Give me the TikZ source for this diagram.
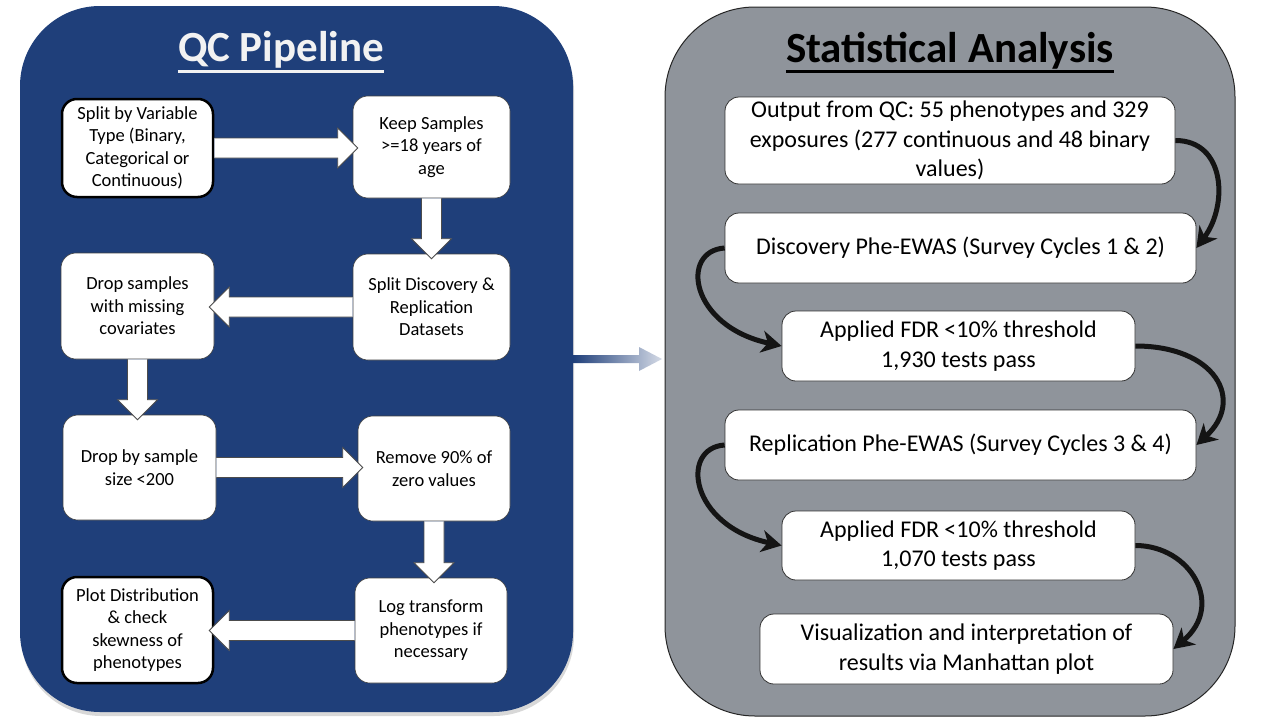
\documentclass[tikz,border=0pt]{standalone}
\usepackage{fontspec}
\setmainfont{Carlito}
\usetikzlibrary{calc,arrows.meta,shadows}

\definecolor{qcblue}{RGB}{31,63,122}
\definecolor{statgray}{RGB}{143,148,155}
\definecolor{titlewhite}{RGB}{242,242,242}
\definecolor{fadeend}{RGB}{212,218,230}

\tikzset{
  panel/.style={rounded corners=#1, inner sep=0pt, outer sep=0pt},
  qcbox/.style={fill=white, draw=black!75, line width=0.6pt, rounded corners=15pt,
    align=center, inner sep=2pt, text=black, font=\fontsize{18.5}{22.5}\selectfont},
  qcedge/.style={qcbox, draw=black, line width=2.5pt},
  stbox/.style={fill=white, draw=black!80, line width=0.8pt, rounded corners=14pt,
    align=center, inner sep=2pt, text=black, font=\fontsize{24}{29.5}\selectfont},
  blockarrow/.style={fill=white, draw=black!70, line width=0.8pt, line join=miter},
  curvearrow/.style={line width=5pt, draw=black!92,
    -{Stealth[length=20pt,width=22pt,inset=6pt]}},
  paneltitle/.style={font=\fontsize{43}{50}\selectfont\bfseries, inner sep=0pt},
}

% hollow block arrows between boxes (open stroke at the source end)
\newcommand\blockright[2]{%
  \draw[blockarrow] let \p1=(#1.east), \p2=(#2.west) in
    (\x1,\y1+10pt) -- (\x2-15pt,\y1+10pt) -- (\x2-15pt,\y1+20pt) -- (\x2+5pt,\y1)
    -- (\x2-15pt,\y1-20pt) -- (\x2-15pt,\y1-10pt) -- (\x1,\y1-10pt);}
\newcommand\blockleft[2]{%
  \draw[blockarrow] let \p1=(#1.west), \p2=(#2.east) in
    (\x1,\y1+10pt) -- (\x2+15pt,\y1+10pt) -- (\x2+15pt,\y1+20pt) -- (\x2-5pt,\y1)
    -- (\x2+15pt,\y1-20pt) -- (\x2+15pt,\y1-10pt) -- (\x1,\y1-10pt);}
\newcommand\blockdown[2]{%
  \draw[blockarrow] let \p1=(#1.south), \p2=(#2.north) in
    (\x1-10pt,\y1) -- (\x1-10pt,\y2+15pt) -- (\x1-20pt,\y2+15pt) -- (\x1,\y2-5pt)
    -- (\x1+20pt,\y2+15pt) -- (\x1+10pt,\y2+15pt) -- (\x1+10pt,\y1);}

\begin{document}
\begin{tikzpicture}[x=1pt, y=-1pt]
  \useasboundingbox (0,0) rectangle (1280,720);
  \fill[white] (0,0) rectangle (1280,720);

  % panels
  \node[panel=80pt, fill=qcblue, minimum width=553, minimum height=706,
        drop shadow={shadow xshift=1pt, shadow yshift=-4pt, opacity=0.3}]
        (lp) at (296.5,359) {};
  \node[panel=90pt, fill=statgray, draw=black!85, line width=1pt,
        minimum width=570, minimum height=709] (rp) at (950,361.5) {};

  % panel titles
  \node[paneltitle, text=titlewhite, anchor=base] (tl) at (281,61) {QC Pipeline};
  \draw[titlewhite, line width=3pt] ([yshift=-10pt]tl.base west) -- ([yshift=-10pt]tl.base east);
  \node[paneltitle, text=black, anchor=base] (tr) at (950,62) {Statistical Analysis};
  \draw[black, line width=3pt] ([yshift=-9pt]tr.base west) -- ([yshift=-9pt]tr.base east);

  % link between the panels
  \shade[left color=qcblue, right color=fadeend] let \p1=(lp.east), \p2=(rp.west) in
    (\x1,\y1+4pt) -- (\x2-26pt,\y1+4pt) -- (\x2-26pt,\y1+12pt) -- (\x2-3pt,\y1)
    -- (\x2-26pt,\y1-12pt) -- (\x2-26pt,\y1-4pt) -- (\x1,\y1-4pt) -- cycle;

  % QC pipeline steps
  \node[qcedge, minimum width=151, minimum height=98] (b1) at (137.5,148)
    {Split by Variable\\Type (Binary,\\Categorical or\\Continuous)};
  \node[qcbox, minimum width=157, minimum height=102] (b2) at (431.5,147)
    {Keep Samples\\>=18 years of\\age};
  \node[qcbox, minimum width=157, minimum height=106] (b3) at (431.5,307)
    {Split Discovery \&\\Replication\\Datasets};
  \node[qcbox, minimum width=153, minimum height=106] (b4) at (137.5,306)
    {Drop samples\\with missing\\covariates};
  \node[qcbox, minimum width=153, minimum height=105] (b5) at (139.5,467.5)
    {Drop by sample\\size <200};
  \node[qcbox, minimum width=152, minimum height=105] (b6) at (434,468.5)
    {Remove 90\% of\\zero values};
  \node[qcbox, minimum width=152, minimum height=105] (b7) at (431,630.5)
    {Log transform\\phenotypes if\\necessary};
  \node[qcedge, minimum width=151, minimum height=106] (b8) at (137.5,630)
    {Plot Distribution\\\& check\\skewness of\\phenotypes};

  \blockright{b1}{b2}
  \blockdown{b2}{b3}
  \blockleft{b3}{b4}
  \blockdown{b4}{b5}
  \blockright{b5}{b6}
  \blockdown{b6}{b7}
  \blockleft{b7}{b8}

  % statistical analysis steps
  \node[stbox, minimum width=450, minimum height=87] (r1) at (950,140.5)
    {Output from QC: 55 phenotypes and 329\\exposures (277 continuous and 48 binary\\values)};
  \node[stbox, minimum width=471, minimum height=70] (r2) at (960.5,248)
    {Discovery Phe-EWAS (Survey Cycles 1 \& 2)};
  \node[stbox, minimum width=353, minimum height=70] (r3) at (958.5,346)
    {Applied FDR <10\% threshold\\1,930 tests pass};
  \node[stbox, minimum width=471, minimum height=70] (r4) at (960.5,445)
    {Replication Phe-EWAS (Survey Cycles 3 \& 4)};
  \node[stbox, minimum width=353, minimum height=69] (r5) at (958.5,545.5)
    {Applied FDR <10\% threshold\\1,070 tests pass};
  \node[stbox, minimum width=413, minimum height=70] (r6) at (966.5,649)
    {Visualization and interpretation of\\results via Manhattan plot};

  \draw[curvearrow] (r1.east) .. controls +(50,0) and +(32,-43) .. (r2.east);
  \draw[curvearrow] (r2.west) .. controls +(-45,3) and +(-92,-20) .. (r3.west);
  \draw[curvearrow] (r3.east) .. controls +(80,0) and +(49,-45) .. (r4.east);
  \draw[curvearrow] (r4.west) .. controls +(-45,3) and +(-92,-20) .. (r5.west);
  \draw[curvearrow] (r5.east) .. controls +(55,0) and +(52,-44) .. (r6.east);
\end{tikzpicture}
\end{document}
